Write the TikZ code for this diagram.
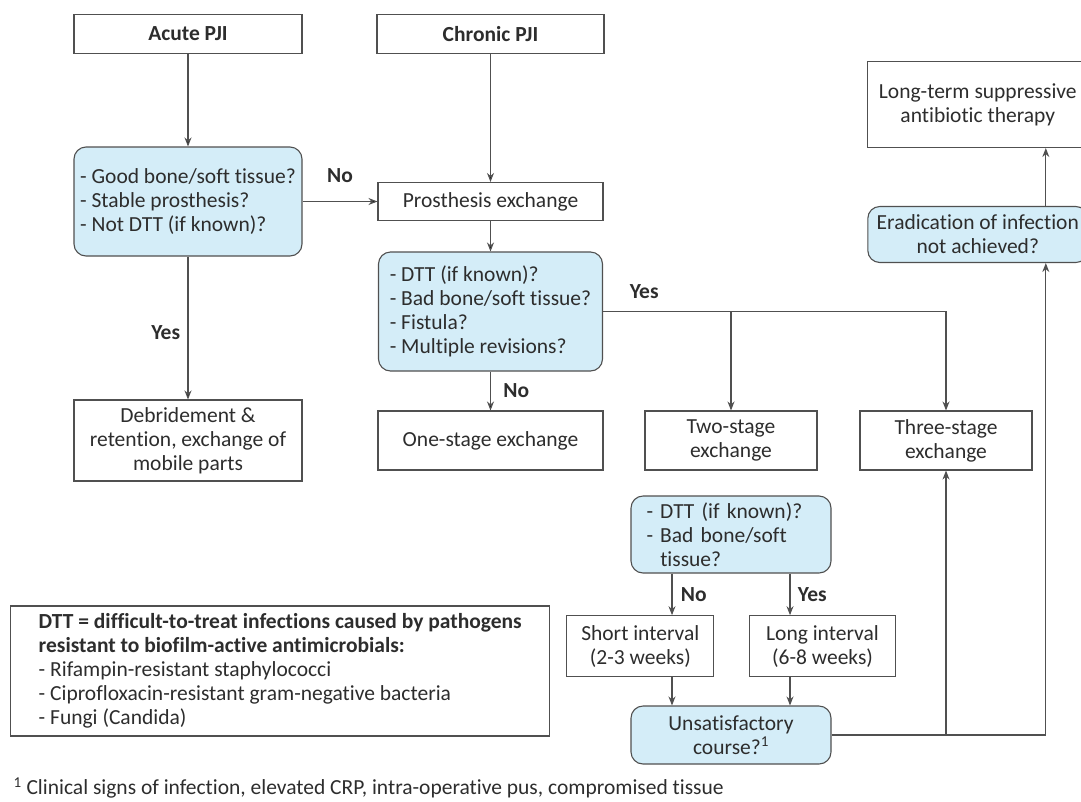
\documentclass[tikz,border=0pt]{standalone}
\usepackage{fontspec}
\setmainfont{Carlito}[Ligatures=NoCommon]
\usetikzlibrary{arrows.meta,positioning}

\definecolor{linegray}{RGB}{80,80,80}
\definecolor{textgray}{RGB}{45,45,45}
\definecolor{queryblue}{RGB}{212,237,248}

\begin{document}
\begin{tikzpicture}[x=1pt,y=-1pt,on grid,>={Stealth[length=9pt,width=7pt]},
  every node/.style={text=textgray,font=\fontsize{21.5}{24}\selectfont},
  box/.style={draw=linegray,line width=1.1pt,fill=white,align=center,inner sep=0pt},
  query/.style={box,fill=queryblue,rounded corners=12pt,align=left},
  answer/.style={font=\fontsize{21.5}{24}\selectfont\bfseries},
  flow/.style={draw=linegray,line width=1.1pt,->}]

  \useasboundingbox (0,0) rectangle (1081,801);

  \node[box,minimum width=228pt,minimum height=39pt,answer] (acute) at (188,34) {Acute PJI};
  \node[box,minimum width=227pt,minimum height=39pt,answer] (chronic) [right=302.5pt of acute] {Chronic PJI};
  \node[query,minimum width=228pt,minimum height=109pt] (goodbone) [below=167.5pt of acute]
    {- Good bone/soft tissue?\\- Stable prosthesis?\\- Not DTT (if known)?};
  \node[box,minimum width=225pt,minimum height=38pt] (exchange) [right=302.5pt of goodbone] {Prosthesis exchange};
  \node[query,minimum width=224pt,minimum height=119pt] (badbone) [below=110pt of exchange]
    {- DTT (if known)?\\- Bad bone/soft tissue?\\- Fistula?\\- Multiple revisions?};
  \node[box,minimum width=228pt,minimum height=81pt] (debride) [below=239pt of goodbone]
    {Debridement \&\\retention, exchange of\\mobile parts};
  \node[box,minimum width=225pt,minimum height=59pt] (onestage) [right=302.5pt of debride] {One-stage exchange};
  \node[box,minimum width=172pt,minimum height=59pt] (twostage) [right=240.5pt of onestage] {Two-stage\\exchange};
  \node[box,minimum width=172pt,minimum height=59pt] (threestage) [right=215pt of twostage] {Three-stage\\exchange};
  \node[query,text width=169pt,inner xsep=15.5pt,minimum height=77pt] (interval) [below=94pt of twostage]
    {- DTT (if known)?\\- Bad bone/soft\\\phantom{- }tissue?};
  \node[box,minimum width=147pt,minimum height=61pt] (short) [below left=111.7pt and 90.7pt of interval]
    {Short interval\\(2-3 weeks)};
  \node[box,minimum width=146pt,minimum height=61pt] (long) [below right=111.7pt and 91.5pt of interval]
    {Long interval\\(6-8 weeks)};
  \node[query,align=center,minimum width=200pt,minimum height=58pt] (unsat) [below=200.5pt of interval]
    {Unsatisfactory\\course?\textsuperscript{1}};
  \node[query,align=center,minimum width=220pt,minimum height=56pt] (erad) [above right=206pt and 31.8pt of threestage]
    {Eradication of infection\\not achieved?};
  \node[box,minimum width=220pt,minimum height=86pt] (suppress) [above=130pt of erad]
    {Long-term suppressive\\antibiotic therapy};
  \node[box,align=left,minimum width=539pt,minimum height=130pt] (dttnote) [below right=230.5pt and 92.2pt of debride]
    {\textbf{DTT = difficult-to-treat infections caused by pathogens}\\\textbf{resistant to biofilm-active antimicrobials:}\\- Rifampin-resistant staphylococci\\- Ciprofloxacin-resistant gram-negative bacteria\\- Fungi (Candida)};
  \node[anchor=west] (footnote) at (10,788)
    {\textsuperscript{1} Clinical signs of infection, elevated CRP, intra-operative pus, compromised tissue};

  \coordinate (nocol) at ([xshift=-59pt]interval.south);
  \coordinate (yescol) at ([xshift=59pt]interval.south);
  \coordinate (fork) at ([xshift=68pt]erad.south);

  \path[flow]
    (acute)    edge                                  (goodbone)
    (chronic)  edge                                  (exchange)
    (goodbone) edge node[answer,above=15pt]   {No}   (exchange)
               edge node[answer,left=4pt,pos=0.53] {Yes} (debride)
    (exchange) edge                                  (badbone)
    (badbone)  edge node[answer,right=9pt]    {No}   (onestage);

  \draw[flow] (badbone.east) -| node[answer,above=9pt,pos=0.06] {Yes} (threestage.north);
  \draw[flow] (twostage.north |- badbone.east) -- (twostage.north);
  \draw[flow] (nocol) -- node[answer,right=5pt] {No} (nocol |- short.north);
  \draw[flow] (yescol) -- node[answer,right=4pt] {Yes} (yescol |- long.north);
  \draw[flow] (nocol |- short.south) -- (nocol |- unsat.north);
  \draw[flow] (yescol |- long.south) -- (yescol |- unsat.north);
  \draw[flow] (unsat.east) -| (fork);
  \draw[flow] (threestage.south |- unsat.east) -- (threestage.south);
  \draw[flow] (fork |- erad.north) -- (fork |- suppress.south);
\end{tikzpicture}
\end{document}
